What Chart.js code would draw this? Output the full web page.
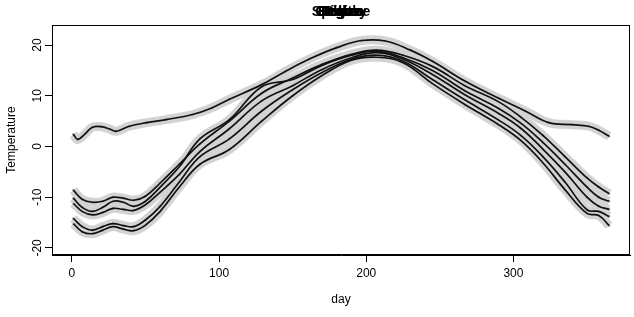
<!DOCTYPE html>
<html>
<head>
<meta charset="utf-8">
<script src="https://cdn.jsdelivr.net/npm/chart.js@4.4.1/dist/chart.umd.min.js"></script>
<style>
  html, body { margin: 0; padding: 0; background: #fff; }
  #wrap { width: 634px; height: 317px; }
</style>
</head>
<body>
<div id="wrap"><canvas id="tempChart" width="634" height="317"></canvas></div>
<script>
// station names (all drawn at the same spot, as in the original)
const stations = ['Seattle', 'Spokane', 'Sitka', 'Regina', 'Calgary', 'Pierre'];

// mild coastal station
const mildDays = [1, 4, 9, 14, 20, 26, 30, 39, 51, 64, 82, 95, 107, 129, 145, 161, 180, 197, 213, 230, 245, 267, 290, 308, 324, 340, 351, 358, 365];
const mildTemp = [2.4, 1.4, 2.5, 3.8, 3.9, 3.4, 3.0, 4.0, 4.7, 5.3, 6.3, 7.6, 9.3, 12.2, 14.8, 17.2, 19.5, 20.9, 20.8, 19.0, 16.8, 12.9, 9.5, 7.0, 4.7, 4.3, 4.0, 3.2, 2.0];

// continental stations
const coldDays = [1, 7, 14, 21, 28, 35, 42, 50, 60, 73, 87, 107, 129, 150, 170, 190, 207, 225, 245, 267, 290, 305, 320, 335, 350, 358, 365];
const cold1 = [-8.6, -10.4, -11.0, -10.8, -10.0, -10.2, -10.6, -9.8, -7.2, -3.5, 0.5, 5.0, 10.5, 13.5, 16.2, 18.2, 19.0, 18.0, 15.8, 12.0, 8.8, 5.8, 2.2, -2.0, -6.2, -8.0, -9.3];
const cold2 = [-10.2, -12.0, -12.8, -12.0, -10.8, -11.0, -11.8, -10.8, -8.0, -4.0, 1.5, 5.3, 11.8, 13.2, 16.0, 18.0, 18.8, 17.5, 15.0, 11.0, 7.5, 4.6, 0.8, -3.5, -8.0, -10.0, -10.8];
const cold3 = [-11.2, -12.8, -13.5, -13.0, -12.2, -12.4, -12.6, -11.5, -9.0, -5.5, -1.0, 3.5, 9.0, 12.0, 15.2, 17.5, 18.5, 17.2, 14.2, 10.2, 6.5, 3.6, -0.5, -5.0, -10.0, -11.8, -12.4];
const cold4 = [-14.2, -15.8, -16.5, -15.8, -15.2, -15.6, -15.8, -14.5, -11.8, -7.0, -2.0, 1.5, 7.0, 11.2, 14.6, 17.2, 18.0, 16.8, 13.2, 9.2, 5.2, 2.2, -2.0, -7.0, -12.5, -12.8, -13.8];
const cold5 = [-15.2, -16.8, -17.2, -16.5, -15.8, -16.3, -16.6, -15.5, -12.8, -8.0, -3.5, -0.6, 5.0, 10.0, 14.0, 17.0, 17.6, 16.5, 12.4, 8.3, 4.3, 1.2, -3.2, -8.5, -13.2, -13.6, -15.6];

const xTicks = [0, 100, 200, 300];
const yTicks = [-20, -10, 0, 10, 20];

const FONT = 'Liberation Sans, Arial, Helvetica, sans-serif';

function pts(days, temps) {
    return days.map((d, i) => ({ x: d, y: temps[i] }));
}

const series = [
    pts(mildDays, mildTemp),
    pts(coldDays, cold1),
    pts(coldDays, cold2),
    pts(coldDays, cold3),
    pts(coldDays, cold4),
    pts(coldDays, cold5)
];

const datasets = [];
// grey bands first (drawn underneath)
series.forEach(s => datasets.push({
    data: s,
    borderColor: '#d3d3d3',
    borderWidth: 9,
    pointRadius: 1.3,
    pointBackgroundColor: '#a0a0a0',
    pointBorderWidth: 0,
    tension: 0.4,
    order: 2
}));
// black smooth curves on top
series.forEach(s => datasets.push({
    data: s,
    borderColor: '#111111',
    borderWidth: 1.7,
    pointRadius: 0,
    tension: 0.4,
    order: 1
}));

// box round the plot + overlapping titles
const frame = {
    id: 'frame',
    afterDraw(chart) {
        const { ctx, chartArea: a } = chart;
        ctx.save();
        ctx.strokeStyle = '#000';
        ctx.lineWidth = 1;
        ctx.strokeRect(a.left + 0.5, a.top + 0.5, a.right - a.left - 1, a.bottom - a.top - 1);
        ctx.fillStyle = '#000';
        ctx.font = 'bold 14px ' + FONT;
        ctx.textAlign = 'center';
        ctx.textBaseline = 'middle';
        const cx = (a.left + a.right) / 2;
        stations.forEach(name => ctx.fillText(name, cx, 12));
        ctx.restore();
    }
};

new Chart(document.getElementById('tempChart'), {
    type: 'line',
    data: { datasets: datasets },
    options: {
        responsive: false,
        animation: false,
        layout: { padding: { top: 25, right: 2, left: 0, bottom: 0 } },
        plugins: { legend: { display: false }, tooltip: { enabled: false }, title: { display: false } },
        scales: {
            x: {
                type: 'linear',
                min: -13.5,
                max: 379.2,
                afterBuildTicks: s => { s.ticks = xTicks.map(v => ({ value: v })); },
                afterFit: s => { s.height = 62; },
                grid: { drawOnChartArea: false, drawTicks: true, tickLength: 7, color: '#000' },
                border: { display: true, color: '#000' },
                ticks: { color: '#000', font: { family: FONT, size: 12 }, padding: 4, maxRotation: 0 },
                title: { display: true, text: 'day', color: '#000', font: { family: FONT, size: 12 }, padding: { top: 0, bottom: 10 } }
            },
            y: {
                type: 'linear',
                min: -21.4,
                max: 23.96,
                afterBuildTicks: s => { s.ticks = yTicks.map(v => ({ value: v })); },
                afterFit: s => { s.width = 52; },
                grid: { drawOnChartArea: false, drawTicks: true, tickLength: 7, color: '#000' },
                border: { display: true, color: '#000' },
                ticks: { color: '#000', font: { family: FONT, size: 12 }, padding: -1, minRotation: 90, maxRotation: 90, crossAlign: 'center' },
                title: { display: true, text: 'Temperature', color: '#000', font: { family: FONT, size: 12 }, padding: { top: 4, bottom: 0 } }
            }
        }
    },
    plugins: [frame]
});
</script>
</body>
</html>
